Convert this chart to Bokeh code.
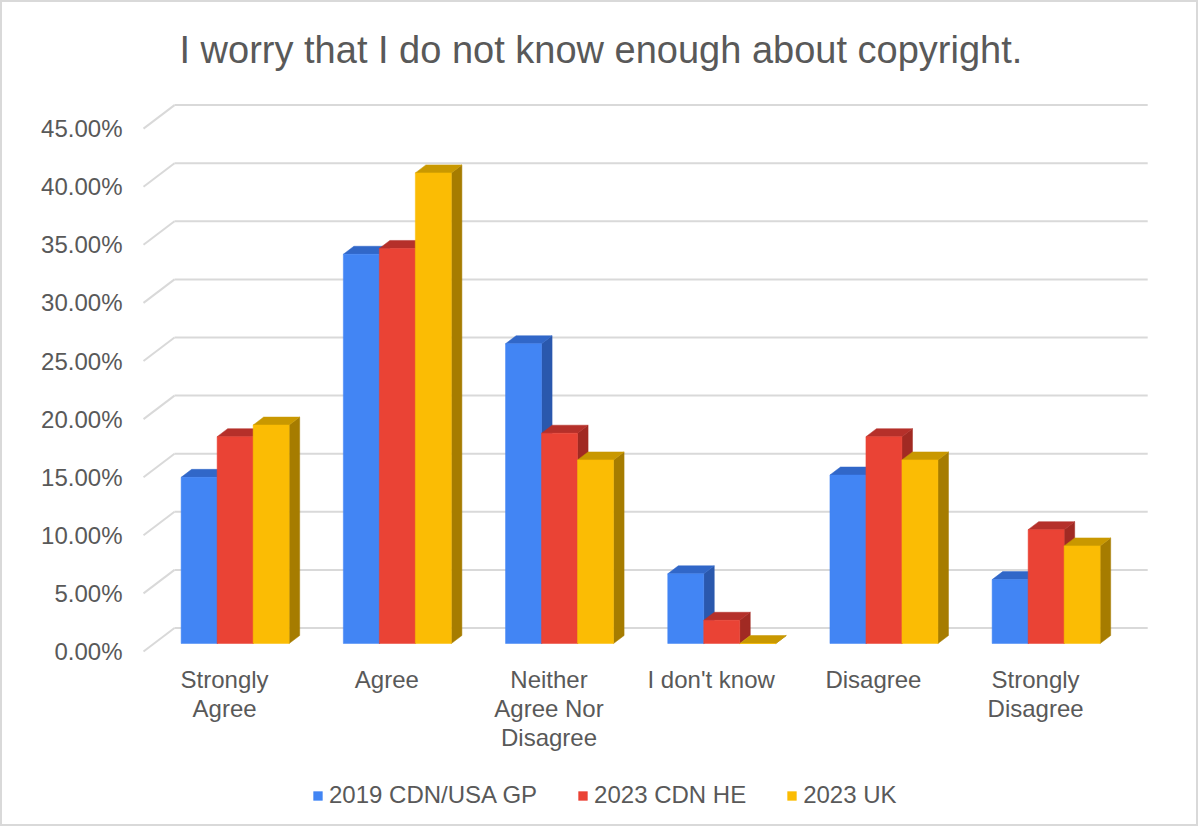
from bokeh.plotting import figure
from bokeh.models import Range1d, FixedTicker, Legend, LegendItem
from bokeh.core.properties import value
from bokeh.embed import file_html
from bokeh.resources import INLINE

# ---------------- data ----------------
title_text = "I worry that I do not know enough about copyright."
categories = ["Strongly\nAgree", "Agree", "Neither\nAgree Nor\nDisagree",
              "I don't know", "Disagree", "Strongly\nDisagree"]
series_names = ["2019 CDN/USA GP", "2023 CDN HE", "2023 UK"]
cdn_usa_gp_2019 = [14.3, 33.5, 25.8, 6.0, 14.5, 5.5]
cdn_he_2023 = [17.8, 34.0, 18.1, 2.0, 17.8, 9.8]
uk_2023 = [18.8, 40.5, 15.8, 0.0, 15.8, 8.4]
y_ticks = [0, 5, 10, 15, 20, 25, 30, 35, 40, 45]
y_tick_labels = ["0.00%", "5.00%", "10.00%", "15.00%", "20.00%",
                 "25.00%", "30.00%", "35.00%", "40.00%", "45.00%"]

# ---------------- style ----------------
front_colors = ["#4285F4", "#EA4335", "#FBBC04"]
top_colors = ["#3167C8", "#B5302A", "#C99800"]
side_colors = ["#2A58AD", "#A12A23", "#A67C00"]
grid_color = "#D9D9D9"
text_color = "#595959"
FONT = "Liberation Sans"

# geometry (pixels -> data units)
PX_X = 162.2          # px per category on the front plane
PX_Y = 11.62          # px per percent
DX = 31.0 / PX_X      # full floor depth, x
DV = 23.5 / PX_Y      # full floor depth, y
T0, T1 = 0.34, 0.68   # bar front / back depth fractions
BAR_W = 36.0 / PX_X

# page layout (canvas has a 2px border, so page = canvas + 2)
OFF = 2
W, H = 1194, 822
X0, Y0 = 143, 651                       # page px of front-plane origin
PL, PT, PR, PB = 138, 95, 1152, 824     # frame box in page px
FL, FT, FR, FB = PL - OFF, PT - OFF, PR - OFF, PB - OFF

x_start = (PL - X0) / PX_X
x_end = (PR - X0) / PX_X
y_start = (Y0 - PB) / PX_Y
y_end = (Y0 - PT) / PX_Y

p = figure(frame_width=FR - FL, frame_height=FB - FT,
           output_backend="svg", toolbar_location=None,
           x_range=Range1d(x_start, x_end), y_range=Range1d(y_start, y_end),
           min_border_left=FL, min_border_top=FT,
           min_border_right=W - FR, min_border_bottom=0,
           background_fill_color="white", border_fill_color="white")
p.outline_line_color = None
p.grid.visible = False
p.xaxis.visible = False
p.styles = {"border": "2px solid #D9D9D9"}

# title
p.title.text = title_text
p.title.align = "left"
p.title.offset = 41
p.title.text_font = FONT
p.title.text_font_size = "38px"
p.title.text_font_style = "normal"
p.title.text_color = text_color
p.title.text_line_height = 1.0
p.title.standoff = 49

# gridlines: back wall + left side wall diagonals
n_cat = len(categories)
p.segment(x0=[DX] * len(y_ticks), y0=[v + DV for v in y_ticks],
          x1=[n_cat + DX] * len(y_ticks), y1=[v + DV for v in y_ticks],
          line_color=grid_color, line_width=2)
p.segment(x0=[0] * len(y_ticks), y0=y_ticks,
          x1=[DX] * len(y_ticks), y1=[v + DV for v in y_ticks],
          line_color=grid_color, line_width=2)

# 3D bars
series = [cdn_usa_gp_2019, cdn_he_2023, uk_2023]
legend_items = []
for j, vals in enumerate(series):
    fxs, fys, txs, tys, sxs, sys_ = [], [], [], [], [], []
    for i, v in enumerate(vals):
        xl = i + 0.5 - 1.5 * BAR_W + j * BAR_W
        xr = xl + BAR_W
        a0x, a0y = T0 * DX, T0 * DV
        a1x, a1y = T1 * DX, T1 * DV
        fxs.append([xl + a0x, xr + a0x, xr + a0x, xl + a0x])
        fys.append([a0y, a0y, v + a0y, v + a0y])
        txs.append([xl + a0x, xr + a0x, xr + a1x, xl + a1x])
        tys.append([v + a0y, v + a0y, v + a1y, v + a1y])
        sxs.append([xr + a0x, xr + a1x, xr + a1x, xr + a0x])
        sys_.append([a0y, a1y, v + a1y, v + a0y])
    p.patches(sxs, sys_, fill_color=side_colors[j], line_color=side_colors[j], line_width=0.5)
    p.patches(txs, tys, fill_color=top_colors[j], line_color=top_colors[j], line_width=0.5)
    r = p.patches(fxs, fys, fill_color=front_colors[j], line_color=front_colors[j], line_width=0.5)
    legend_items.append(LegendItem(label=series_names[j], renderers=[r]))

# category labels (front plane, below the floor)
p.text(x=[i + 0.5 for i in range(n_cat)], y=[-14.0 / PX_Y] * n_cat, text=categories,
       text_align="center", text_baseline="top", text_font=value(FONT),
       text_font_size="24px", text_color=text_color, text_line_height=1.08)

# y axis
p.yaxis.ticker = FixedTicker(ticks=y_ticks)
p.yaxis.major_label_overrides = {float(t): l for t, l in zip(y_ticks, y_tick_labels)}
p.yaxis.axis_line_color = None
p.yaxis.major_tick_line_color = None
p.yaxis.minor_tick_line_color = None
p.yaxis.major_tick_out = 0
p.yaxis.major_tick_in = 0
p.yaxis.major_label_standoff = 16
p.yaxis.major_label_text_font = FONT
p.yaxis.major_label_text_font_size = "24px"
p.yaxis.major_label_text_color = text_color

legend = Legend(items=legend_items, orientation="horizontal", location=(312 - PL, 15),
                glyph_width=11, glyph_height=11, label_standoff=6, spacing=40,
                label_text_font=FONT, label_text_font_size="24px",
                label_text_color=text_color, border_line_color=None,
                background_fill_alpha=0, padding=0, margin=0)
p.add_layout(legend, "center")

open("out.html", "w").write(file_html(p, INLINE))
